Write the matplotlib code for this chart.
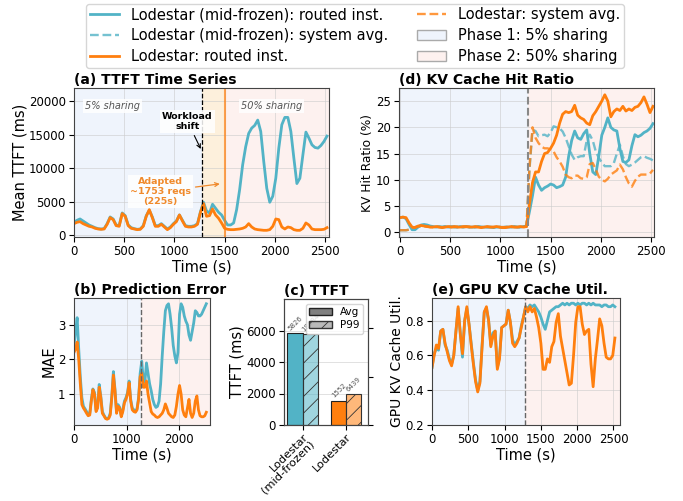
import numpy as np
import matplotlib
matplotlib.use("Agg")
import matplotlib.pyplot as plt
from matplotlib.patches import Patch
from matplotlib.lines import Line2D
from matplotlib.colors import to_rgba

# sampling grid (s)
t = np.arange(0, 2521, 30)
SHIFT = 1275
ADAPT = 1500

# (a) mean TTFT (ms)
ttft_frozen = [1900, 2200, 2400, 2100, 1800, 1500, 1300, 1100, 950, 900,
               950, 1700, 2700, 2400, 1500, 1400, 3300, 2900, 1500, 1100,
               950, 850, 900, 1400, 2900, 3700, 2700, 1400, 1400, 1700,
               1300, 900, 1200, 1700, 2100, 3000, 2200, 1400, 1300, 1300,
               1400, 1700, 3500, 4900, 3600, 3300, 4600, 4000, 3400, 3000,
               2200, 1500, 1500, 1800, 3800, 6800, 10500, 13200, 15200, 16000,
               16400, 17200, 15500, 11000, 7000, 4900, 5800, 8500, 13000, 16500,
               17600, 17600, 15500, 11500, 7700, 8500, 12000, 15400, 14500, 13500,
               13100, 13000, 13400, 14000, 14800]
ttft_lode = [1700, 1900, 2000, 1700, 1500, 1300, 1200, 1000, 900, 850,
             900, 1600, 2600, 2300, 1400, 1300, 3200, 2800, 1400, 1000,
             900, 800, 850, 1300, 2800, 3800, 2600, 1300, 1300, 1600,
             1200, 800, 1100, 1600, 2000, 3000, 2100, 1300, 1200, 1200,
             1300, 1600, 3400, 4700, 2800, 2900, 3900, 3000, 2500, 1800,
             1000, 850, 800, 800, 850, 900, 1000, 1200, 1700, 1200,
             900, 800, 750, 700, 700, 800, 1300, 2400, 2300, 1200,
             900, 1200, 1100, 800, 700, 700, 1000, 1800, 1500, 900,
             800, 800, 800, 850, 1100]

# (b) prediction error (MAE)
mae_frozen = [2.4, 2.8, 3.2, 2.3, 1.5, 0.9, 0.65, 0.58, 0.5, 0.42,
              0.45, 0.85, 1.15, 1.05, 0.55, 0.65, 1.28, 0.95, 0.5, 0.4,
              0.32, 0.3, 0.32, 0.45, 0.95, 1.65, 1.15, 0.5, 0.7, 0.62,
              0.38, 0.55, 0.8, 0.9, 1.05, 1.38, 0.85, 0.6, 0.55, 0.5,
              0.58, 0.9, 1.6, 1.95, 1.4, 1.35, 1.9, 1.6, 1.3, 1.1,
              0.85, 0.7, 0.62, 0.65, 0.8, 1.3, 2.1, 2.8, 3.4, 3.55,
              3.6, 3.3, 2.9, 2.4, 2.1, 1.9, 2.2, 3.3, 3.6, 3.5,
              3.25, 3.1, 3.0, 2.7, 2.55, 2.8, 3.05, 3.4, 3.35, 3.25,
              3.25, 3.3, 3.4, 3.5, 3.6]
mae_lode = [2.2, 2.3, 2.5, 2.0, 1.3, 0.7, 0.6, 0.53, 0.45, 0.38,
            0.4, 0.8, 1.13, 1.0, 0.5, 0.6, 1.2, 0.9, 0.45, 0.38,
            0.3, 0.28, 0.3, 0.4, 0.9, 1.55, 1.1, 0.45, 0.65, 0.6,
            0.35, 0.5, 0.75, 0.85, 1.0, 1.33, 0.8, 0.55, 0.5, 0.48,
            0.55, 0.85, 1.5, 1.6, 1.2, 1.2, 1.38, 1.0, 0.75, 0.5,
            0.43, 0.4, 0.35, 0.33, 0.35, 0.4, 0.45, 0.55, 0.72, 0.6,
            0.45, 0.4, 0.35, 0.33, 0.4, 0.65, 1.0, 1.25, 1.0, 0.55,
            0.4, 0.35, 0.6, 0.85, 0.45, 0.33, 0.45, 0.8, 0.95, 0.55,
            0.38, 0.35, 0.35, 0.38, 0.48]

# (c) TTFT summary
systems = ["Lodestar\n(mid-frozen)", "Lodestar"]
avg_ttft = [5826, 1552]
p99_ttft = [18684, 6439]

# (d) KV hit ratio (%)
hit_frozen = [2.8, 2.9, 2.6, 1.5, 0.5, 0.5, 1.0, 1.4, 1.5, 1.4,
              1.2, 1.1, 1.0, 1.1, 1.0, 1.1, 1.0, 1.1, 1.0, 1.0,
              1.1, 1.0, 1.1, 1.0, 1.0, 1.0, 1.1, 1.0, 1.0, 1.0,
              1.0, 0.9, 1.0, 1.0, 0.9, 1.0, 1.0, 1.0, 1.1, 1.0,
              1.0, 1.1, 1.2, 4.0, 7.0, 10.5, 9.0, 8.0, 8.5, 8.8,
              9.2, 9.0, 8.5, 8.7, 9.0, 10.5, 14.5, 17.5, 19.3, 18.0,
              17.7, 18.8, 19.5, 15.0, 11.5, 11.0, 14.5, 18.5, 20.0, 21.8,
              20.0, 19.5, 19.3, 16.0, 13.5, 13.3, 13.8, 16.5, 18.6, 18.2,
              18.5, 19.0, 19.3, 19.8, 20.7]
hitavg_frozen = [0.4, 0.4, 0.4, 0.5, 0.8, 1.0, 1.1, 1.2, 1.2, 1.1,
                 1.1, 1.0, 1.1, 1.0, 1.0, 1.1, 1.0, 1.0, 1.1, 1.0,
                 1.0, 1.0, 1.1, 1.0, 1.0, 1.0, 1.1, 1.0, 1.0, 1.0,
                 1.0, 1.0, 1.0, 1.0, 1.0, 1.0, 1.0, 1.1, 1.0, 1.0,
                 1.0, 1.1, 1.1, 12.0, 19.5, 19.3, 18.3, 18.5, 18.6, 18.3,
                 19.0, 20.2, 20.0, 19.8, 19.2, 18.0, 16.4, 14.8, 13.8, 14.3,
                 14.5, 14.5, 17.5, 18.6, 17.5, 15.4, 14.2, 13.3, 12.6, 12.6,
                 12.6, 13.2, 15.0, 16.7, 14.5, 13.0, 12.6, 12.9, 13.3, 13.8,
                 14.3, 14.5, 14.2, 14.0, 13.7]
hit_lode = [2.8, 2.9, 2.8, 1.8, 1.0, 0.9, 1.2, 1.3, 1.2, 1.1,
            1.0, 1.0, 1.1, 1.0, 0.9, 1.0, 1.1, 1.0, 1.1, 1.0,
            1.0, 1.1, 1.1, 1.0, 1.0, 1.1, 1.0, 0.9, 1.0, 1.1,
            1.0, 1.0, 1.1, 1.0, 0.9, 0.9, 1.0, 1.1, 1.0, 1.0,
            1.1, 1.0, 1.1, 5.5, 9.5, 11.5, 11.5, 13.5, 15.0, 15.2,
            16.0, 17.0, 18.5, 20.8, 22.5, 23.0, 22.8, 23.0, 24.2, 22.3,
            21.8, 21.5, 20.8, 20.5, 22.2, 23.0, 24.0, 25.0, 26.2, 25.0,
            22.0, 23.0, 23.5, 23.2, 24.0, 23.1, 23.5, 23.2, 23.8, 24.0,
            24.7, 25.8, 24.4, 22.8, 24.0]
hitavg_lode = [0.4, 0.4, 0.4, 0.5, 0.8, 1.0, 1.1, 1.2, 1.2, 1.1,
               1.0, 1.0, 1.1, 1.0, 1.0, 1.0, 1.1, 1.0, 1.0, 1.1,
               1.0, 1.0, 1.0, 1.1, 1.0, 1.0, 1.0, 1.0, 1.1, 1.0,
               1.0, 1.0, 1.0, 1.0, 1.0, 1.0, 1.1, 1.0, 1.0, 1.0,
               1.0, 1.0, 1.1, 12.5, 20.0, 18.0, 17.0, 16.3, 16.0, 16.0,
               15.8, 15.4, 14.3, 13.5, 12.5, 11.0, 10.5, 10.3, 10.8, 10.8,
               10.3, 10.2, 10.5, 13.0, 13.2, 12.0, 10.6, 10.0, 9.7, 10.2,
               11.0, 11.4, 11.8, 12.9, 12.0, 10.5, 9.3, 8.7, 9.8, 10.6,
               11.0, 11.0, 11.0, 11.2, 11.9]

# (e) GPU KV cache utilisation
util_frozen = [0.53, 0.61, 0.64, 0.63, 0.74, 0.75, 0.66, 0.63, 0.58, 0.55,
               0.60, 0.74, 0.87, 0.73, 0.59, 0.80, 0.87, 0.78, 0.67, 0.56,
               0.46, 0.40, 0.45, 0.66, 0.85, 0.87, 0.80, 0.66, 0.73, 0.74,
               0.53, 0.59, 0.76, 0.77, 0.78, 0.86, 0.79, 0.69, 0.66, 0.68,
               0.70, 0.77, 0.82, 0.88, 0.87, 0.89, 0.88, 0.89, 0.87, 0.85,
               0.82, 0.78, 0.75, 0.80, 0.85, 0.86, 0.87, 0.88, 0.88, 0.89,
               0.90, 0.89, 0.90, 0.89, 0.90, 0.90, 0.89, 0.90, 0.89, 0.90,
               0.90, 0.89, 0.90, 0.89, 0.90, 0.89, 0.89, 0.89, 0.88, 0.89,
               0.89, 0.88, 0.88, 0.89, 0.88]
util_lode = [0.53, 0.60, 0.66, 0.64, 0.74, 0.75, 0.67, 0.62, 0.57, 0.54,
             0.60, 0.74, 0.88, 0.72, 0.61, 0.80, 0.88, 0.78, 0.66, 0.55,
             0.45, 0.39, 0.44, 0.65, 0.85, 0.88, 0.80, 0.65, 0.71, 0.74,
             0.52, 0.58, 0.76, 0.77, 0.78, 0.86, 0.79, 0.67, 0.65, 0.67,
             0.70, 0.76, 0.82, 0.88, 0.85, 0.88, 0.85, 0.87, 0.82, 0.76,
             0.67, 0.52, 0.52, 0.58, 0.56, 0.65, 0.68, 0.79, 0.84, 0.71,
             0.64, 0.57, 0.50, 0.43, 0.44, 0.60, 0.79, 0.88, 0.88, 0.78,
             0.72, 0.74, 0.75, 0.55, 0.42, 0.58, 0.69, 0.81, 0.77, 0.67,
             0.59, 0.58, 0.58, 0.60, 0.70]

TEAL = "#52b3c6"
ORANGE = "#ff7f0e"
BLUE_BG = "#eff4fc"
PINK_BG = "#fdf1ef"
ADAPT_BG = "#fdf0dc"

plt.rcParams["xtick.labelsize"] = 8.5
plt.rcParams["ytick.labelsize"] = 8.5
plt.rcParams["xtick.major.pad"] = 2.5
plt.rcParams["ytick.major.pad"] = 2.5
plt.rcParams["axes.labelsize"] = 10.5
plt.rcParams["axes.labelpad"] = 1.0
plt.rcParams["hatch.linewidth"] = 0.6

fig = plt.figure(figsize=(6.83, 5.01), dpi=100)

def px_axes(l, r, top, bot):
    return fig.add_axes([l / 683, 1 - bot / 501, (r - l) / 683, (bot - top) / 501])

ax_a = px_axes(74, 329, 88, 237)
ax_d = px_axes(399, 654, 88, 237)
ax_b = px_axes(74, 210, 298, 425)
ax_c = px_axes(284, 368, 299, 425)
ax_e = px_axes(432, 620, 298, 425)

def style(ax, title):
    ax.set_title(title, loc="left", fontsize=10, fontweight="bold", pad=3)
    ax.grid(True, color="#cccccc", alpha=0.6, lw=0.7)
    ax.set_axisbelow(True)
    for s in ax.spines.values():
        s.set_color("#444444")

def phases(ax, adapt=False):
    ax.axvspan(-100, SHIFT, color=BLUE_BG, lw=0, zorder=0)
    if adapt:
        ax.axvspan(SHIFT, ADAPT, color=ADAPT_BG, lw=0, zorder=0)
        ax.axvspan(ADAPT, 2800, color=PINK_BG, lw=0, zorder=0)
    else:
        ax.axvspan(SHIFT, 2800, color=PINK_BG, lw=0, zorder=0)

# (a)
phases(ax_a, adapt=True)
ax_a.plot(t, ttft_frozen, color=TEAL, lw=2)
ax_a.plot(t, ttft_lode, color=ORANGE, lw=2)
ax_a.axvline(SHIFT, color="black", ls="--", lw=0.9)
ax_a.axvline(ADAPT, color=ORANGE, lw=1.5, alpha=0.7)
ax_a.set_xlim(0, 2540)
ax_a.set_ylim(-300, 22000)
ax_a.set_xticks([0, 500, 1000, 1500, 2000, 2500])
ax_a.set_yticks([0, 5000, 10000, 15000, 20000])
ax_a.set_xlabel("Time (s)")
ax_a.set_ylabel("Mean TTFT (ms)")
style(ax_a, "(a) TTFT Time Series")
wbox = dict(boxstyle="square,pad=0.2", facecolor="white", edgecolor="none", alpha=0.85)
ax_a.text(380, 19300, "5% sharing", style="italic", fontsize=7, color="#555555",
          ha="center", va="center", bbox=wbox)
ax_a.text(1970, 19300, "50% sharing", style="italic", fontsize=7, color="#555555",
          ha="center", va="center", bbox=wbox)
ax_a.annotate("Workload\nshift", xy=(SHIFT, 12500), xytext=(1130, 17000),
              fontsize=6.8, fontweight="bold", ha="center", va="center", bbox=wbox,
              arrowprops=dict(arrowstyle="->", color="black", lw=0.8))
ax_a.annotate("Adapted\n~1753 reqs\n(225s)", xy=(ADAPT - 20, 7700), xytext=(860, 6500),
              fontsize=6.8, fontweight="bold", color="#f08a2c", ha="center", va="center",
              bbox=wbox, arrowprops=dict(arrowstyle="->", color="#f08a2c", lw=0.9))

# (b)
phases(ax_b)
ax_b.plot(t, mae_frozen, color=TEAL, lw=2)
ax_b.plot(t, mae_lode, color=ORANGE, lw=2)
ax_b.axvline(SHIFT, color="#666666", ls="--", lw=1)
ax_b.set_xlim(0, 2590)
ax_b.set_xticks([0, 1000, 2000])
ax_b.set_yticks([1, 2, 3])
ax_b.set_xlabel("Time (s)")
ax_b.set_ylabel("MAE")
style(ax_b, "(b) Prediction Error")

# (c)
x = np.arange(len(systems))
w = 0.35
cols = [TEAL, ORANGE]
ax_c2 = ax_c.twinx()
ax_c.bar(x - w / 2, avg_ttft, w, color=cols, edgecolor="#222222", lw=0.8)
ax_c2.bar(x + w / 2, p99_ttft, w, color=[to_rgba(c, 0.55) for c in cols],
          edgecolor="#333333", lw=0.8, hatch="//")
for xi, v in zip(x, avg_ttft):
    ax_c.text(xi - w / 2, v + 100, str(v), rotation=45, fontsize=5, color="#555555",
              ha="center", va="bottom")
for xi, v in zip(x, p99_ttft):
    ax_c2.text(xi + w / 2, v + 300, str(v), rotation=45, fontsize=5, color="#555555",
               ha="center", va="bottom")
ax_c.set_xlim(-0.43, 1.5)
ax_c.set_ylim(0, 8000)
ax_c.set_yticks([0, 2000, 4000, 6000])
ax_c2.set_ylim(0, 26000)
ax_c2.set_yticks([0, 10000, 20000])
ax_c2.tick_params(labelright=False)
ax_c.set_xticks(x)
ax_c.set_xticklabels(systems, rotation=45, ha="right", rotation_mode="anchor",
                     fontsize=8.2, linespacing=0.95)
ax_c.tick_params(axis="x", pad=1)
ax_c.set_ylabel("TTFT (ms)")
style(ax_c, "(c) TTFT")
ax_c.grid(False, axis="x")
for s in ax_c2.spines.values():
    s.set_color("#444444")
ax_c2.legend([Patch(facecolor="#808080", edgecolor="#222222"),
              Patch(facecolor=to_rgba("#808080", 0.55), edgecolor="#333333", hatch="//")],
             ["Avg", "P99"], loc="upper right", fontsize=7.5, handlelength=2.2,
             borderpad=0.3, labelspacing=0.3)

# (d)
phases(ax_d)
ax_d.plot(t, hit_frozen, color=TEAL, lw=2)
ax_d.plot(t, hitavg_frozen, color=TEAL, lw=1.7, ls="--", alpha=0.8)
ax_d.plot(t, hit_lode, color=ORANGE, lw=2)
ax_d.plot(t, hitavg_lode, color=ORANGE, lw=1.7, ls="--", alpha=0.8)
ax_d.axvline(SHIFT, color="#888888", ls="--", lw=1.5)
ax_d.set_xlim(-10, 2530)
ax_d.set_xticks([0, 500, 1000, 1500, 2000, 2500])
ax_d.set_yticks([0, 5, 10, 15, 20, 25])
ax_d.set_xlabel("Time (s)")
ax_d.set_ylabel("KV Hit Ratio (%)", fontsize=8.8)
style(ax_d, "(d) KV Cache Hit Ratio")

# (e)
phases(ax_e)
ax_e.plot(t, util_frozen, color=TEAL, lw=2)
ax_e.plot(t, util_lode, color=ORANGE, lw=2)
ax_e.axvline(SHIFT, color="#666666", ls="--", lw=1)
ax_e.set_xlim(0, 2590)
ax_e.set_ylim(0.2, 0.93)
ax_e.set_xticks([0, 500, 1000, 1500, 2000, 2500])
ax_e.set_yticks([0.2, 0.4, 0.6, 0.8])
ax_e.set_xlabel("Time (s)")
ax_e.set_ylabel("GPU KV Cache Util.", fontsize=10)
style(ax_e, "(e) GPU KV Cache Util.")

handles = [Line2D([], [], color=TEAL, lw=2),
           Line2D([], [], color=TEAL, lw=1.7, ls="--", alpha=0.8),
           Line2D([], [], color=ORANGE, lw=2),
           Line2D([], [], color=ORANGE, lw=1.7, ls="--", alpha=0.8),
           Patch(facecolor=BLUE_BG, edgecolor="#aaaaaa"),
           Patch(facecolor=PINK_BG, edgecolor="#aaaaaa")]
labels = ["Lodestar (mid-frozen): routed inst.",
          "Lodestar (mid-frozen): system avg.",
          "Lodestar: routed inst.",
          "Lodestar: system avg.",
          "Phase 1: 5% sharing",
          "Phase 2: 50% sharing"]
fig.legend(handles, labels, loc="lower center", bbox_to_anchor=(0.52, 1 - 75 / 501),
           ncol=2, fontsize=10.5, frameon=True, borderpad=0.25, labelspacing=0.4)

fig.savefig("out.png", dpi=100)
